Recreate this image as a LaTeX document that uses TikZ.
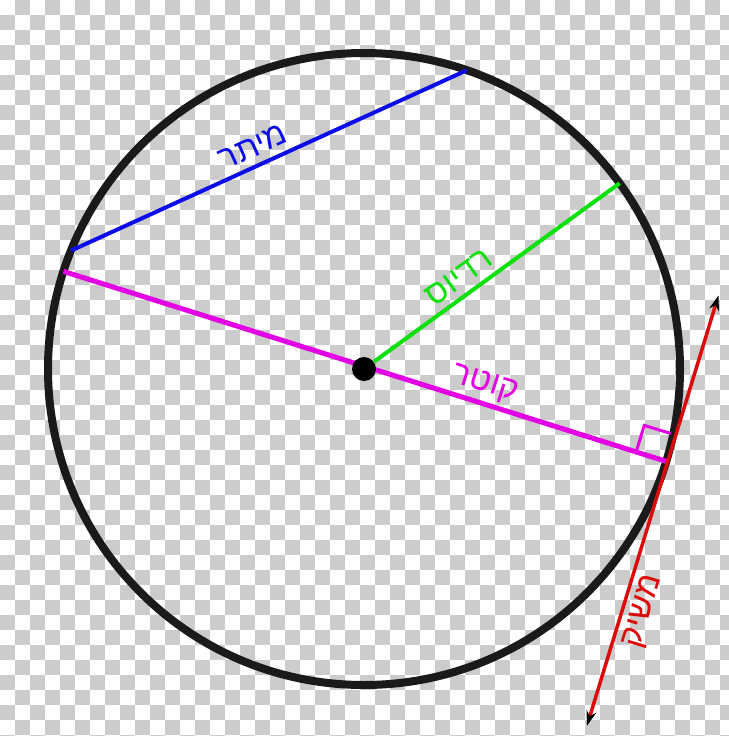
\documentclass[tikz,border=0pt]{standalone}
\usepackage{fontspec}
\usepackage{xcolor}
\usepackage{tikz}
\usetikzlibrary{arrows.meta, calc}
\newfontfamily\hebfont[Script=Hebrew]{Liberation Sans}
\TeXXeTstate=1
\definecolor{checkgray}{RGB}{204,204,204}
\definecolor{chordblue}{RGB}{12,12,235}
\definecolor{radiusgreen}{RGB}{10,225,10}
\definecolor{diammagenta}{RGB}{228,0,228}
\definecolor{tangentred}{RGB}{220,10,10}
\definecolor{rimblack}{RGB}{26,26,26}

\begin{document}
\begin{tikzpicture}[x=1pt, y=-1pt,
  rimnode/.style={circle, draw=rimblack, line width=8pt, minimum size=632pt, inner sep=0pt, outer sep=0pt},
  dotnode/.style={circle, fill=black, minimum size=24pt, inner sep=0pt},
  heblabel/.style={font=\hebfont\fontsize{33}{33}\selectfont, inner sep=0pt},
  >={Stealth[length=15pt, width=10pt, color=black]}]

\useasboundingbox (0,0) rectangle (728,736);

% transparency grid
\foreach \i in {0,...,48} {
  \foreach \j in {0,...,49} {
    \pgfmathtruncatemacro{\cell}{mod(\i+\j,2)}
    \ifnum\cell=1 \fill[checkgray] (15*\i,15*\j) rectangle ++(15,15); \fi
  }
}

\coordinate (mid) at (364,369);
\node[rimnode] (rim) at (mid) {};

\draw[chordblue, line width=4pt] (rim.158.5) -- (rim.71.7)
  node[heblabel, sloped, above=7pt, pos=0.48, text=chordblue] {\beginR מיתר\endR};
\draw[diammagenta, line width=5pt] (rim.162.5) -- (rim.-17.5)
  node[heblabel, sloped, above=3pt, pos=0.69, text=diammagenta] {\beginR קוטר\endR};

\node[dotnode] (ctr) at (mid) {};
\draw[radiusgreen, line width=4pt] (ctr) -- (rim.36.4)
  node[heblabel, sloped, above=6pt, pos=0.39, text=radiusgreen] {\beginR רדיוס\endR};

% right angle
\coordinate (touch) at ($(rim.-17.5)!-1.5pt!(ctr)$);
\coordinate (sq0) at ($(touch)!5pt!(ctr)$);
\coordinate (sq1) at ($(sq0)!28pt!(ctr)$);
\coordinate (sq2) at ($(sq1)!28pt!-90:(ctr)$);
\coordinate (sq3) at ($(sq0)!28pt!-90:(ctr)$);
\draw[diammagenta, line width=3pt] (sq1) -- (sq2) -- (sq3);

% tangent
\coordinate (tantop) at ($(touch)!174pt!-90:(ctr)$);
\coordinate (tanbot) at ($(touch)!276pt!90:(ctr)$);
\draw[tangentred, line width=3.5pt, <->] (tanbot) -- (tantop)
  node[heblabel, sloped, below=6pt, pos=0.28, text=tangentred] {\beginR משיק\endR};

\end{tikzpicture}
\end{document}
